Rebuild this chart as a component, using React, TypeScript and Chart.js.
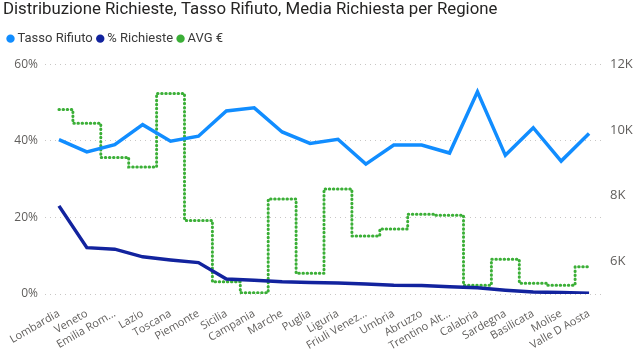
import React, { useEffect, useRef } from "react";
import { Chart, registerables, layouts } from "chart.js";

Chart.register(...registerables);

const regions = [
  "Lombardia", "Veneto", "Emilia Rom...", "Lazio", "Toscana", "Piemonte", "Sicilia",
  "Campania", "Marche", "Puglia", "Liguria", "Friuli Venez...", "Umbria", "Abruzzo",
  "Trentino Alt...", "Calabria", "Sardegna", "Basilicata", "Molise", "Valle D Aosta",
];

const tassoRifiuto = [40.3, 37.1, 39.0, 44.2, 39.9, 41.2, 47.8, 48.6, 42.3, 39.3, 40.4, 33.9, 38.9, 38.9, 36.8, 52.8, 36.2, 43.4, 34.7, 41.9];
const percRichieste = [23.0, 12.1, 11.7, 9.7, 8.9, 8.2, 3.9, 3.6, 3.2, 3.0, 2.9, 2.6, 2.3, 2.2, 1.9, 1.6, 1.0, 0.5, 0.4, 0.2];
const avgEuro = [10620, 10200, 9160, 8870, 11110, 7240, 5370, 5040, 7890, 5630, 8200, 6770, 6980, 7430, 7400, 5270, 6060, 5330, 5270, 5830];

const leftTicks = [0, 20, 40, 60];
const rightTicks = [6000, 8000, 10000, 12000];

const titleText = "Distribuzione Richieste, Tasso Rifiuto, Media Richiesta per Regione";

const spacerPlugin = {
  id: "legendSpacer",
  beforeInit(chart: any) {
    const box: any = {
      position: "top",
      weight: 500,
      fullSize: true,
      options: {},
      top: 0,
      left: 0,
      right: 0,
      bottom: 0,
      width: 0,
      height: 9,
      isHorizontal() {
        return true;
      },
      update(maxWidth: number) {
        this.width = maxWidth;
        this.height = 9;
      },
      draw() {},
    };
    layouts.addBox(chart, box);
  },
};

export default function App() {
  const ref = useRef<HTMLCanvasElement | null>(null);

  useEffect(() => {
    if (!ref.current) return;
    const head = "Roboto, 'Open Sans', sans-serif";
    const ui = "'Open Sans', 'Noto Sans', sans-serif";
    const chart = new Chart(ref.current, {
      type: "line",
      data: {
        labels: regions,
        datasets: [
          {
            label: "Tasso Rifiuto",
            data: tassoRifiuto,
            borderColor: "#118DFF",
            backgroundColor: "#118DFF",
            borderWidth: 3.5,
            pointRadius: 0,
            tension: 0,
            yAxisID: "y",
          },
          {
            label: "% Richieste",
            data: percRichieste,
            borderColor: "#12239E",
            backgroundColor: "#12239E",
            borderWidth: 3.5,
            pointRadius: 0,
            tension: 0,
            yAxisID: "y",
          },
          {
            label: "AVG €",
            data: avgEuro,
            borderColor: "#3BAF37",
            backgroundColor: "#3BAF37",
            borderWidth: 3,
            borderDash: [0.5, 3.6],
            borderCapStyle: "round",
            pointRadius: 0,
            stepped: "middle",
            yAxisID: "y1",
          },
        ],
      },
      plugins: [spacerPlugin],
      options: {
        responsive: true,
        maintainAspectRatio: false,
        animation: false,
        layout: { padding: { left: 3, right: 0, top: 0, bottom: 0 } },
        plugins: {
          title: {
            display: true,
            text: titleText,
            align: "start",
            color: "#252423",
            font: { family: head, size: 16.8, weight: "normal" },
            padding: { top: 0, bottom: 5 },
          },
          legend: {
            display: true,
            align: "start",
            labels: {
              usePointStyle: true,
              pointStyle: "circle",
              boxWidth: 1,
              boxHeight: 5.9,
              padding: 7,
              color: "#3a3a3a",
              font: { family: head, size: 13 },
              generateLabels: (c: any) =>
                (Chart.defaults.plugins.legend.labels as any).generateLabels(c).map((l: any) => ({
                  ...l,
                  lineWidth: 0,
                  lineDash: [],
                  fillStyle: l.strokeStyle,
                })),
            },
          },
          tooltip: { enabled: false },
        },
        scales: {
          x: {
            offset: true,
            grid: { display: false },
            border: { display: false },
            ticks: {
              color: "#605E5C",
              font: { family: ui, size: 11 },
              minRotation: 30,
              maxRotation: 30,
              autoSkip: false,
              padding: 5,
            },
            afterFit: (s: any) => {
              s.height = 58;
              s.paddingLeft = 0;
              s.paddingRight = 0;
            },
          },
          y: {
            position: "left",
            min: 0,
            max: 60,
            afterBuildTicks: (axis: any) => {
              axis.ticks = leftTicks.map((v) => ({ value: v }));
            },
            afterFit: (s: any) => {
              s.width = 42;
            },
            grid: { color: "#C8C6C4", lineWidth: 1, drawTicks: false },
            border: { display: false, dash: [1, 4] },
            ticks: {
              color: "#605E5C",
              font: { family: ui, size: 12 },
              padding: 7,
              callback: (v: any) => v + "%",
            },
          },
          y1: {
            position: "right",
            min: 5000,
            max: 12000,
            afterBuildTicks: (axis: any) => {
              axis.ticks = rightTicks.map((v) => ({ value: v }));
            },
            afterFit: (s: any) => {
              s.width = 34;
            },
            grid: { display: false, drawTicks: false },
            border: { display: false },
            ticks: {
              color: "#605E5C",
              font: { family: ui, size: 13 },
              padding: 7,
              callback: (v: any) => Number(v) / 1000 + "K",
            },
          },
        },
      },
    });
    return () => chart.destroy();
  }, []);

  return (
    <div style={{ position: "fixed", left: 0, top: 0, width: 637, height: 352, background: "#fff" }}>
      <canvas ref={ref} />
    </div>
  );
}
